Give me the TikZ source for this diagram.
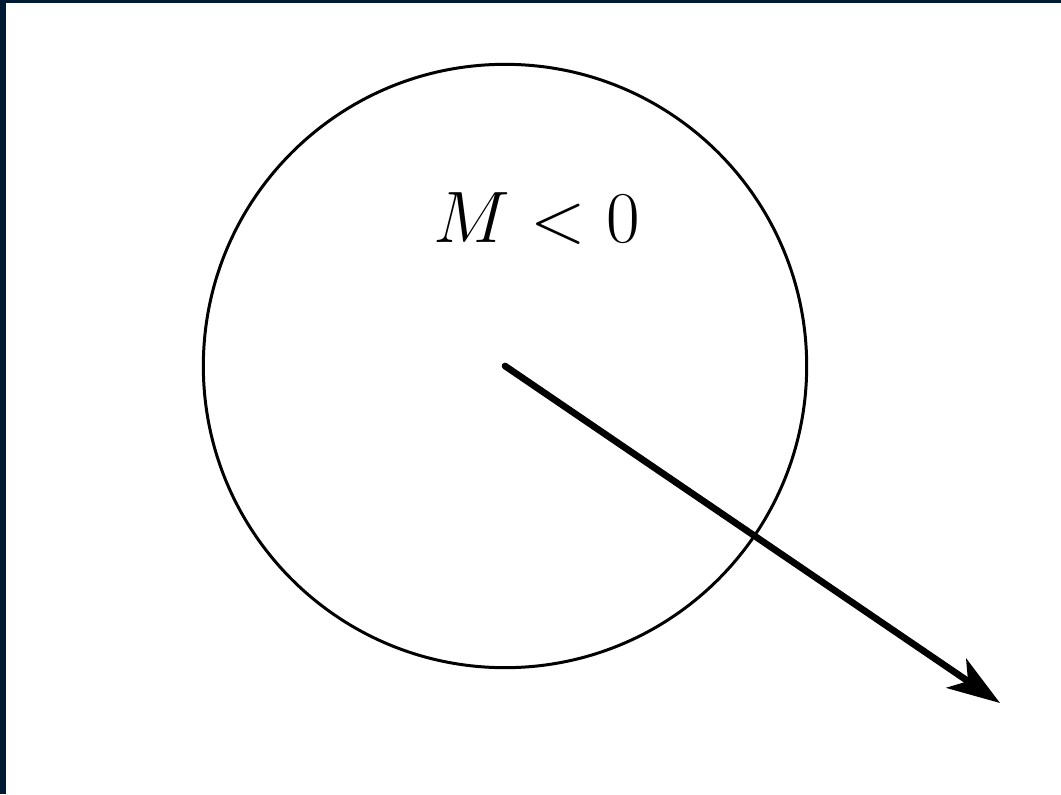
\documentclass[tikz,border=0pt]{standalone}
\usepackage{amsmath}
\usepackage{tikz}
\usetikzlibrary{calc, positioning, arrows.meta}
\definecolor{frame}{HTML}{011A33}

\begin{document}
\begin{tikzpicture}[x=0.01cm, y=-0.01cm]
          \fill[frame] (0, 0) rectangle (1061, 794);
          \fill[white] (6, 3) rectangle (1061, 794);
          \useasboundingbox (0, 0) rectangle (1061, 794);

          \node[draw,  circle,  line width=0.85pt,  minimum size=6.03cm,  inner sep=0pt] (ball) at (505, 366) {};
          \node[anchor=base,  font=\fontsize{22.3}{27}\selectfont] (mass) at (537, 242) {$M < 0$};
          \coordinate (tip) at (1000, 703);

          \draw[-{Stealth[length=15pt, width=10pt, inset=4pt]},  line width=1.9pt,  line cap=round]  (ball.center) -- (tip);

      \end{tikzpicture}
\end{document}
